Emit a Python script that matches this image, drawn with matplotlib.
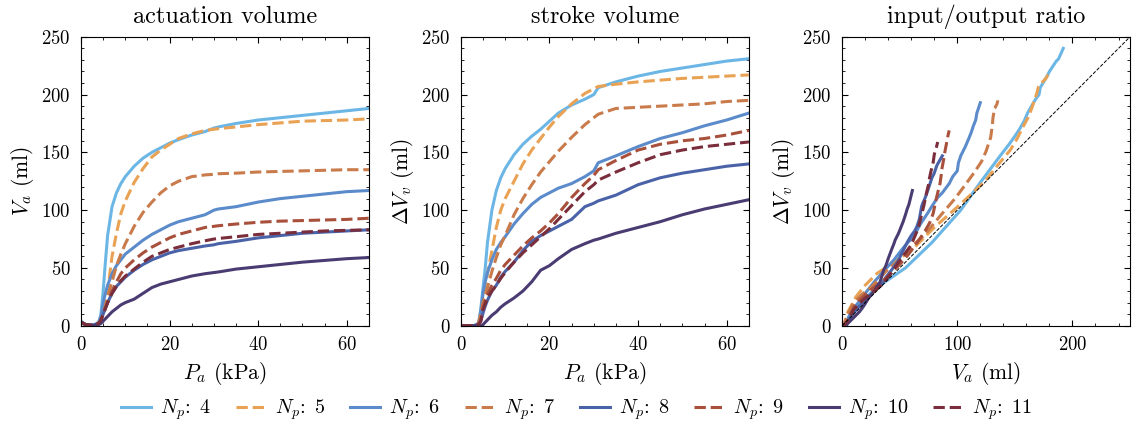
import numpy as np
import matplotlib
matplotlib.use("Agg")
import matplotlib.pyplot as plt

# ---------------------------------------------------------------------------
# Data, common pressure grid in kPa
# ---------------------------------------------------------------------------
nan = np.nan
P_KPA = [0, 1, 2, 3, 4, 4.5, 5, 5.5, 6, 7, 8, 9, 10, 12, 14, 16, 18, 20,
         22, 25, 28, 30, 31, 35, 40, 45, 50, 55, 60, 65, 70]

N_P = [4, 5, 6, 7, 8, 9, 10, 11]

# actuation volume V_a (ml)
VA_4 = [4, 1, 0.5, 0.5, 3, 10, 30, 55, 78, 103, 115, 123, 129, 138, 145, 150, 154, 158,
        161, 165, 168, 171, 172, 175, 178, 180, 182, 184, 186, 188, 192]
VA_5 = [3, 1, 0.5, 0.5, 2, 5, 12, 20, 30, 60, 80, 97, 108, 124, 136, 146, 152, 157,
        162, 166, 169, 170, 170.5, 172, 174, 175.5, 177, 177.5, 178, 179, nan]
VA_6 = [3, 1, 0.5, 0.5, 3, 8, 20, 28, 35, 45, 52, 57, 62, 68, 74, 79, 83, 87,
        90, 93, 96, 100, 101, 103, 107, 110, 112, 114, 116, 117, 120]
VA_7 = [3, 1, 0.5, 0.5, 2, 5, 10, 17, 25, 38, 52, 62, 71, 86, 98, 107, 115, 121,
        125, 129, 130.5, 131, 131.5, 132, 133, 133.5, 134, 134.5, 135, 135, nan]
VA_8 = [3, 1, 0.5, 0.5, 2, 5, 10, 15, 20, 28, 34, 38, 42, 48, 53, 57, 60, 63,
        65, 67, 69, 70, 71, 73, 76, 78, 80, 81, 82, 83, 87]
VA_9 = [3, 1, 0.5, 0.5, 2, 5, 10, 15, 20, 30, 38, 45, 50, 57, 63, 68, 72, 76,
        79, 82, 85, 86, 86.5, 88, 89.5, 90.5, 91, 91.5, 92, 93, nan]
VA_10 = [3, 1, 0.5, 0.5, 1, 2, 4, 6, 8, 12, 15, 18, 20, 23, 28, 33, 36, 38,
         40, 43, 45, 46, 46.5, 49, 51, 53, 55, 56.5, 58, 59, 61]
VA_11 = [3, 1, 0.5, 0.5, 2, 5, 10, 15, 20, 28, 34, 39, 43, 49, 55, 60, 63, 66,
         68, 71, 73.5, 75, 75.5, 77, 79, 80, 81, 82, 82.5, 83, nan]

# stroke volume dV_v (ml)
DV_4 = [0, 0, 0, 0, 2, 15, 33, 50, 72, 100, 117, 128, 136, 148, 157, 164, 170, 177,
        184, 191, 196, 200, 206, 211, 216, 220, 223, 226, 229, 231, 240]
DV_5 = [0, 0, 0, 0, 2, 12, 25, 35, 45, 65, 85, 100, 110, 125, 140, 152, 162, 172,
        181, 192, 201, 205, 207, 209, 211, 212.5, 214, 215, 216, 217, nan]
DV_6 = [0, 0, 0, 0, 2, 12, 28, 38, 46, 57, 66, 72, 77, 88, 97, 105, 111, 115,
        119, 123, 129, 134, 141, 147, 155, 162, 167, 173, 178, 184, 193]
DV_7 = [0, 0, 0, 0, 2, 10, 20, 27, 33, 47, 59, 70, 78, 96, 110, 122, 133, 142,
        151, 163, 174, 180, 183, 188, 189, 190, 191, 192, 194, 195, nan]
DV_8 = [0, 0, 0, 0, 1, 4, 11, 17, 22, 30, 35, 42, 47, 55, 65, 73, 78, 82,
        86, 92, 103, 106, 108, 113, 122, 128, 132, 135, 138, 140, 147]
DV_9 = [0, 0, 0, 0, 1, 5, 16, 22, 27, 35, 41, 48, 53, 61, 69, 76, 82, 89,
        97, 111, 123, 130, 135, 143, 152, 157, 160, 162, 165, 169, nan]
DV_10 = [0, 0, 0, 0, 0, 0, 1, 3, 5, 9, 12, 16, 19, 24, 30, 38, 48, 52,
         58, 66, 71, 74, 75, 80, 85, 90, 96, 101, 105, 109, 117]
DV_11 = [0, 0, 0, 0, 1, 4, 14, 19, 24, 30, 35, 41, 46, 55, 63, 70, 77, 84,
         92, 104, 116, 122, 126, 133, 141, 148, 152, 155, 157, 159, nan]

COLORS = ["#6cb6e6", "#e9a254", "#5b8bca", "#c97b4b",
          "#4a62a8", "#a8503c", "#4a3c72", "#7a2d3a"]

VA = [VA_4, VA_5, VA_6, VA_7, VA_8, VA_9, VA_10, VA_11]
DV = [DV_4, DV_5, DV_6, DV_7, DV_8, DV_9, DV_10, DV_11]

# ---------------------------------------------------------------------------
# Style: computer-modern look, inward ticks on all sides
# ---------------------------------------------------------------------------
plt.rcParams.update({
    "font.family": "serif",
    "font.serif": ["cmr10"],
    "mathtext.fontset": "cm",
    "axes.formatter.use_mathtext": True,
    "font.size": 13.5,
    "axes.unicode_minus": False,
    "xtick.direction": "in",
    "ytick.direction": "in",
    "xtick.top": True,
    "ytick.right": True,
    "xtick.minor.visible": True,
    "ytick.minor.visible": True,
    "xtick.major.size": 4,
    "ytick.major.size": 4,
    "xtick.minor.size": 2,
    "ytick.minor.size": 2,
    "xtick.major.pad": 7.5,
    "ytick.major.pad": 7.5,
    "axes.linewidth": 0.8,
    "axes.titlesize": 17.5,
    "axes.labelsize": 15.5,
    "axes.titlepad": 10,
})

fig = plt.figure(figsize=(11.38, 4.28), dpi=100)
w, h, b = 0.253, 0.675, 0.239
axes = [fig.add_axes([x0, b, w, h]) for x0 in (0.0712, 0.405, 0.740)]
ax1, ax2, ax3 = axes

P = np.array(P_KPA)
lw = 2.2
handles = []
for i, n in enumerate(N_P):
    ls = "-" if n % 2 == 0 else "--"
    va = np.array(VA[i], dtype=float)
    dv = np.array(DV[i], dtype=float)
    ln, = ax1.plot(P, va, color=COLORS[i], ls=ls, lw=lw, label=f"$N_p$: $\\,${n}")
    ax2.plot(P, dv, color=COLORS[i], ls=ls, lw=lw)
    ax3.plot(va, dv, color=COLORS[i], ls=ls, lw=lw)
    handles.append(ln)

ax3.plot([0, 250], [0, 250], color="k", ls="--", lw=0.7)

for ax in (ax1, ax2):
    ax.set_xlim(0, 65)
    ax.set_ylim(0, 250)
    ax.set_xticks([0, 20, 40, 60])
    ax.xaxis.set_minor_locator(matplotlib.ticker.MultipleLocator(5))
    ax.yaxis.set_minor_locator(matplotlib.ticker.MultipleLocator(10))
    ax.set_xlabel("$P_a$ (kPa)")

ax3.set_xlim(0, 250)
ax3.set_ylim(0, 250)
ax3.set_xticks([0, 100, 200])
ax3.xaxis.set_minor_locator(matplotlib.ticker.MultipleLocator(20))
ax3.yaxis.set_minor_locator(matplotlib.ticker.MultipleLocator(10))
ax3.set_xlabel("$V_a$ (ml)")

ax1.set_ylabel("$V_a$ (ml)")
ax2.set_ylabel(r"$\Delta V_v$ (ml)")
ax3.set_ylabel(r"$\Delta V_v$ (ml)")

ax1.set_title("actuation volume")
ax2.set_title("stroke volume")
ax3.set_title("input/output ratio")

fig.legend(handles=handles, loc="center", bbox_to_anchor=(0.507, 0.042),
           ncol=8, frameon=False, fontsize=14.5, handlelength=1.5,
           columnspacing=1.2, handletextpad=0.45)

fig.savefig("out.png", dpi=100)
